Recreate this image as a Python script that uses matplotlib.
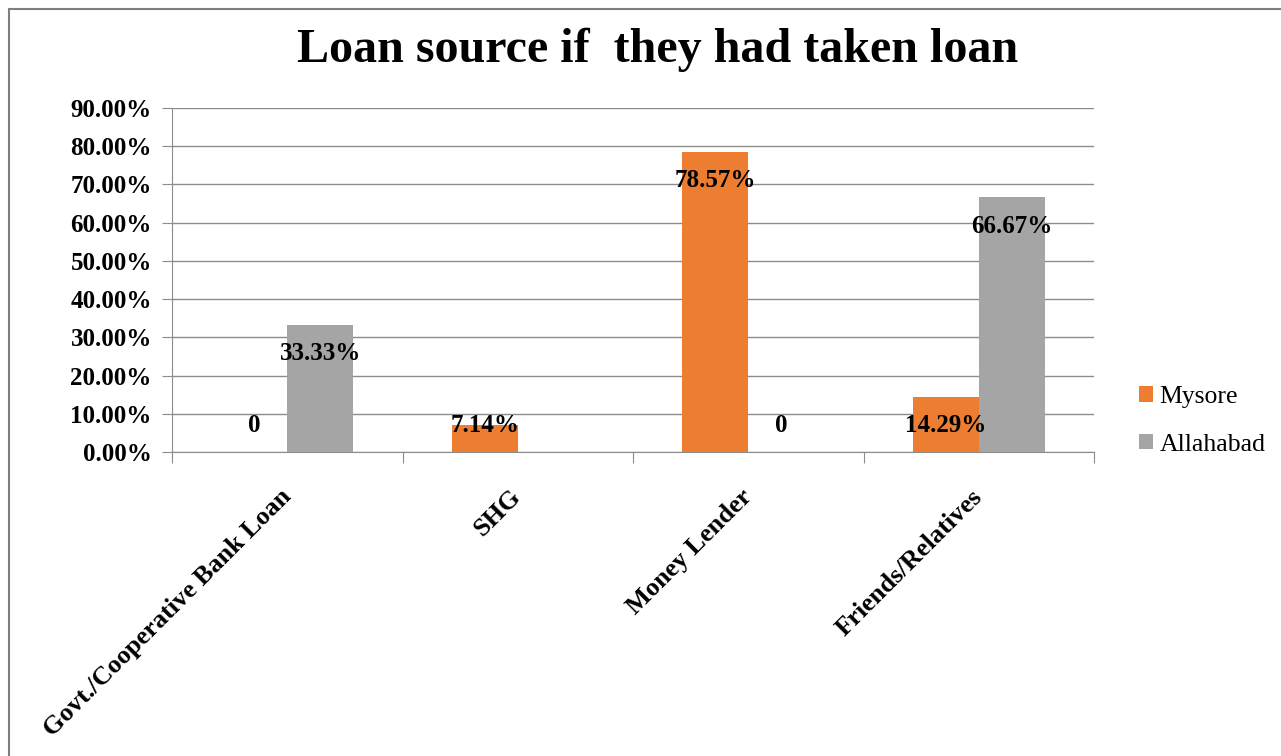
import numpy as np
import matplotlib
matplotlib.use("Agg")
import matplotlib.pyplot as plt
from matplotlib.patches import Rectangle
from matplotlib.transforms import ScaledTranslation

# Data (nan = no value / no label in the source chart)
categories = ["Govt./Cooperative Bank Loan", "SHG", "Money Lender", "Friends/Relatives"]
mysore = [0.0, 7.14, 78.57, 14.29]
allahabad = [33.33, np.nan, 0.0, 66.67]
series_names = ["Mysore", "Allahabad"]
colors = ["#ED7D31", "#A5A5A5"]
yticks = [0, 10, 20, 30, 40, 50, 60, 70, 80, 90]

plt.rcParams['font.family'] = ['Liberation Serif', 'DejaVu Serif']

fig = plt.figure(figsize=(12.81, 7.56), dpi=100)
ax = fig.add_axes([172/1281, 1 - 452/756, (1094-172)/1281, (452-108)/756])

# chart border (only left/top are inside the picture)
fig.patches.append(Rectangle((9/1281, -0.1), 1.2, 1.1 - 9/756,
                             transform=fig.transFigure, fill=False,
                             edgecolor="#7f7f7f", linewidth=1.5))

x = np.arange(len(categories))
w = 0.286
bars1 = ax.bar(x - w/2, np.nan_to_num(mysore), w, color=colors[0], label=series_names[0], zorder=3)
bars2 = ax.bar(x + w/2, np.nan_to_num(allahabad), w, color=colors[1], label=series_names[1], zorder=3)

def fmt(v):
    return "0" if v == 0 else f"{v:.2f}%"

for bars, vals in [(bars1, mysore), (bars2, allahabad)]:
    for b, v in zip(bars, vals):
        if np.isnan(v):
            continue
        y = max(v - 7.6, 6.9)
        ax.text(b.get_x() + b.get_width()/2, y, fmt(v), ha='center', va='center',
                fontsize=18, fontweight='bold', zorder=4)

ax.set_xlim(-0.5, len(categories) - 0.5)
ax.set_ylim(0, 90)
ax.set_yticks(yticks)
ax.set_yticklabels([f"{t:.2f}%" for t in yticks], fontsize=18, fontweight='bold')
ax.yaxis.grid(True, color="#8c8c8c", linewidth=1, zorder=0)

# category ticks at boundaries, labels at centers
ax.set_xticks(np.arange(len(categories) + 1) - 0.5)
ax.set_xticklabels([])
ax.set_xticks(x, minor=True)
ax.set_xticklabels(categories, minor=True, rotation=45, ha='right', va='top',
                   rotation_mode='anchor', fontsize=19, fontweight='bold')
ax.tick_params(axis='x', which='minor', length=0, pad=24)
ax.tick_params(axis='x', which='major', length=8, color="#8c8c8c")
ax.tick_params(axis='y', length=7, color="#8c8c8c", pad=7.5)
for lbl in ax.get_xticklabels(minor=True):
    lbl.set_transform(lbl.get_transform() + ScaledTranslation(-8/100, 0, fig.dpi_scale_trans))

for s in ["top", "right"]:
    ax.spines[s].set_visible(False)
ax.spines["left"].set_color("#8c8c8c")
ax.spines["bottom"].set_color("#8c8c8c")

fig.text(658/1281, 1 - 50/756, "Loan source if  they had taken loan", ha='center', va='center',
         fontsize=34.6, fontweight='bold')

fig.legend(loc='center left', bbox_to_anchor=(1116/1281, 1 - 421/756), frameon=False,
           fontsize=18.5, handlelength=0.55, handleheight=0.55, labelspacing=1.0,
           handletextpad=0.25)

fig.savefig("out.png", dpi=100)
